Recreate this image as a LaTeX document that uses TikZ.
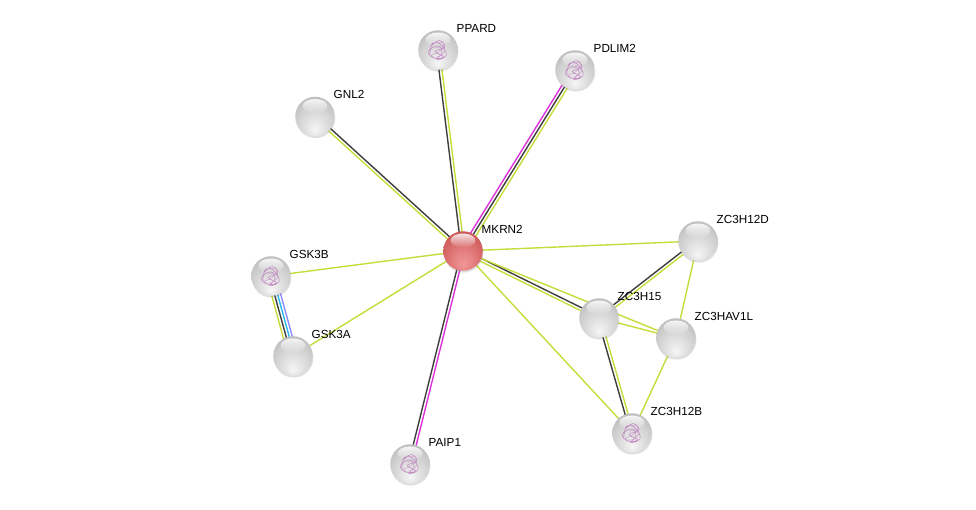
\documentclass[tikz,border=0pt]{standalone}
\usepackage{fontspec}
\setmainfont{Liberation Sans}
\usetikzlibrary{calc,shadows,fadings}
\definecolor{tm}{RGB}{199,220,58}
\definecolor{dk}{RGB}{62,62,62}
\definecolor{ex}{RGB}{222,50,222}
\definecolor{db}{RGB}{40,185,230}
\definecolor{hm}{RGB}{140,140,255}
\definecolor{gA}{RGB}{246,246,246}
\definecolor{gB}{RGB}{226,226,226}
\definecolor{gC}{RGB}{206,206,206}
\definecolor{gD}{RGB}{186,186,186}
\definecolor{gE}{RGB}{160,160,160}
\definecolor{gF}{RGB}{132,132,132}
\definecolor{gG}{RGB}{115,115,115}
\definecolor{rA}{RGB}{240,152,152}
\definecolor{rB}{RGB}{230,130,130}
\definecolor{rC}{RGB}{216,104,104}
\definecolor{rD}{RGB}{198,84,84}
\definecolor{rE}{RGB}{175,60,60}
\definecolor{rF}{RGB}{150,42,42}
\definecolor{rG}{RGB}{135,32,32}
\pgfdeclareradialshading{graysphere}{\pgfpoint{0bp}{-18bp}}{color(0bp)=(gA); color(12bp)=(gB); color(24bp)=(gC); color(34bp)=(gD); color(42bp)=(gE); color(48bp)=(gF); color(50bp)=(gG)}
\pgfdeclareradialshading{redsphere}{\pgfpoint{0bp}{-18bp}}{color(0bp)=(rA); color(12bp)=(rB); color(24bp)=(rC); color(34bp)=(rD); color(42bp)=(rE); color(48bp)=(rF); color(50bp)=(rG)}
\pgfdeclarelayer{bg}
\pgfdeclarelayer{edges}
\pgfsetlayers{bg,edges,main}
\newcommand{\edgeline}[4]{\draw[#4] ($(#1)!#3!90:(#2)$) -- ($(#2)!#3!-90:(#1)$);}
\tikzset{
  ball/.style={circle, minimum size=39.5pt, inner sep=0pt, shading=graysphere,
    drop shadow={shadow xshift=0.6pt, shadow yshift=-1.8pt, opacity=0.25}},
  redball/.style={ball, shading=redsphere},
  lbl/.style={anchor=base west, inner sep=0pt, font=\fontsize{11.7}{14}\selectfont},
  link/.style={line width=1.4pt},
  icon/.style={violet!55, line width=0.5pt, opacity=0.85},
}
\begin{document}
\begin{tikzpicture}[x=1pt,y=-1pt]
\useasboundingbox (0,0) rectangle (976,509);
\begin{pgfonlayer}{bg}
\fill[white] (0,0) rectangle (976,509);
\end{pgfonlayer}
% nodes
\node[redball] (MKRN2) at (463,251) {};
\node[ball] (PPARD) at (438,50) {};
\node[ball] (PDLIM2) at (575,70) {};
\node[ball] (GNL2) at (315,116.5) {};
\node[ball] (GSK3B) at (271,276) {};
\node[ball] (GSK3A) at (293,356) {};
\node[ball] (PAIP1) at (410,464) {};
\node[ball] (ZC3H12D) at (698,241) {};
\node[ball] (ZC3H15) at (599,318) {};
\node[ball] (ZC3HAV1L) at (676,338) {};
\node[ball] (ZC3H12B) at (632,433) {};
% glossy highlights
\foreach \n in {MKRN2,PPARD,PDLIM2,GNL2,GSK3B,GSK3A,PAIP1,ZC3H12D,ZC3H15,ZC3HAV1L,ZC3H12B}{
  \fill[white, path fading=south, opacity=0.85] ($(\n)+(0,-10.5)$) ellipse (12.5pt and 7pt);
}
% structure icons
\foreach \n in {PPARD,PDLIM2,GSK3B,PAIP1,ZC3H12B}{
  \draw[icon, shift={(\n)}, scale=1.35] plot[smooth, tension=0.8] coordinates {(-5,-3) (1,-7) (5,-2) (-2,1) (4,5) (-3,6) (-7,1) (0,-3) (3,2) (-1,7) (6,4) (2,-4) (-4,-5) (-6,3)};
  \draw[icon, violet!40, shift={(\n)}, scale=1.35] plot[smooth, tension=0.8] coordinates {(-3,-5) (4,-5) (1,1) (-5,4) (0,5) (5,0) (-2,-2)};
}
% labels
\foreach \n in {MKRN2,PPARD,PDLIM2,GNL2,GSK3B,GSK3A,PAIP1,ZC3H12D,ZC3H15,ZC3HAV1L,ZC3H12B}{
  \node[lbl] (l\n) at ($(\n)+(18.5,-17.8)$) {\n};
}
% edges
\begin{pgfonlayer}{edges}
\begin{scope}[link]
\edgeline{MKRN2}{PPARD}{1.5pt}{dk}
\edgeline{MKRN2}{PPARD}{-1.5pt}{tm}
\edgeline{MKRN2}{PDLIM2}{3pt}{ex}
\edgeline{MKRN2}{PDLIM2}{0pt}{dk}
\edgeline{MKRN2}{PDLIM2}{-3pt}{tm}
\edgeline{MKRN2}{GNL2}{-1.5pt}{dk}
\edgeline{MKRN2}{GNL2}{1.5pt}{tm}
\edgeline{MKRN2}{PAIP1}{1.5pt}{ex}
\edgeline{MKRN2}{PAIP1}{-1.5pt}{dk}
\edgeline{MKRN2}{GSK3B}{0pt}{tm}
\edgeline{MKRN2}{GSK3A}{0pt}{tm}
\edgeline{MKRN2}{ZC3H12D}{0pt}{tm}
\edgeline{MKRN2}{ZC3H15}{1.5pt}{dk}
\edgeline{MKRN2}{ZC3H15}{-1.5pt}{tm}
\edgeline{MKRN2}{ZC3HAV1L}{0pt}{tm}
\edgeline{MKRN2}{ZC3H12B}{0pt}{tm}
\edgeline{ZC3H15}{ZC3H12D}{1.5pt}{dk}
\edgeline{ZC3H15}{ZC3H12D}{-1.5pt}{tm}
\edgeline{ZC3H15}{ZC3H12B}{1.5pt}{tm}
\edgeline{ZC3H15}{ZC3H12B}{-1.5pt}{dk}
\edgeline{ZC3H15}{ZC3HAV1L}{0pt}{tm}
\edgeline{ZC3H12D}{ZC3HAV1L}{0pt}{tm}
\edgeline{ZC3HAV1L}{ZC3H12B}{0pt}{tm}
\edgeline{GSK3B}{GSK3A}{-4.5pt}{tm}
\edgeline{GSK3B}{GSK3A}{-1.5pt}{dk}
\edgeline{GSK3B}{GSK3A}{1.5pt}{db}
\edgeline{GSK3B}{GSK3A}{4.5pt}{hm}
\end{scope}
\end{pgfonlayer}
\end{tikzpicture}
\end{document}
